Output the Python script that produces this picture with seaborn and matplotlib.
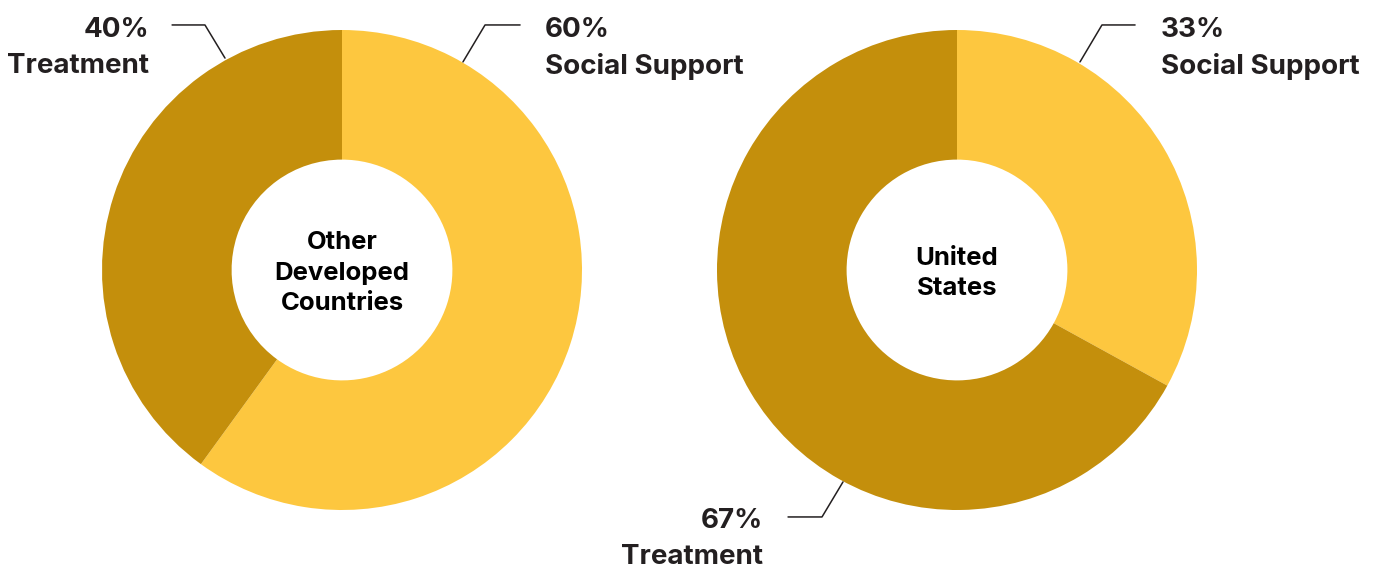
import matplotlib
matplotlib.use("Agg")
import matplotlib.pyplot as plt
import seaborn as sns

regions = ["Other\nDeveloped\nCountries", "United\nStates"]
categories = ["Social Support", "Treatment"]
social_support = [60, 33]
treatment = [40, 67]

colors = ["#FDC73F", "#C48F0C"]
text_color = "#231F20"

sns.set_theme(style="white")
plt.rcParams["font.family"] = ["Inter", "DejaVu Sans"]

fig = plt.figure(figsize=(13.8, 5.7), dpi=100)
W, H = 1380, 570

# pie boxes in pixels (left, top, size)
boxes = [(102, 30, 480), (717, 30, 480)]

# label placement per donut: (category index, anchor, elbow, end, text x, text y, align)
label_specs = [
    [(1, (-0.4875, 0.883), (-0.571, 1.021), (-0.708, 1.021), -0.805, 1.0, "right"),
     (0, (0.504, 0.867), (0.596, 1.021), (0.742, 1.021), 0.846, 1.0, "left")],
    [(0, (0.5125, 0.867), (0.604, 1.021), (0.742, 1.021), 0.85, 1.0, "left"),
     (1, (-0.475, -0.883), (-0.5625, -1.029), (-0.704, -1.029), -0.808, -1.045, "right")],
]

for i, region in enumerate(regions):
    left, top, size = boxes[i]
    ax = fig.add_axes([left / W, (H - top - size) / H, size / W, size / H])
    values = [social_support[i], treatment[i]]
    ax.pie(values, colors=colors, startangle=90, counterclock=False,
           wedgeprops=dict(width=0.54, linewidth=0))
    ax.set_xlim(-1, 1)
    ax.set_ylim(-1, 1)
    ax.set_aspect("equal")
    ax.axis("off")
    ax.text(0, -0.013, region, ha="center", va="center", fontsize=18.5, fontweight="bold",
            color="black", linespacing=1.4)

    for idx, anchor, elbow, end, tx, ty, align in label_specs[i]:
        ax.plot([anchor[0], elbow[0], end[0]], [anchor[1], elbow[1], end[1]],
                color=text_color, lw=1.1, clip_on=False)
        pct = f"{values[idx]}%"
        ax.text(tx, ty, pct, ha=align, va="center", fontsize=20,
                fontweight="bold", color=text_color, clip_on=False)
        ax.text(tx, ty - 0.15, categories[idx], ha=align, va="center", fontsize=20,
                fontweight="bold", color=text_color, clip_on=False)

fig.savefig("out.png", dpi=100, facecolor="white")
